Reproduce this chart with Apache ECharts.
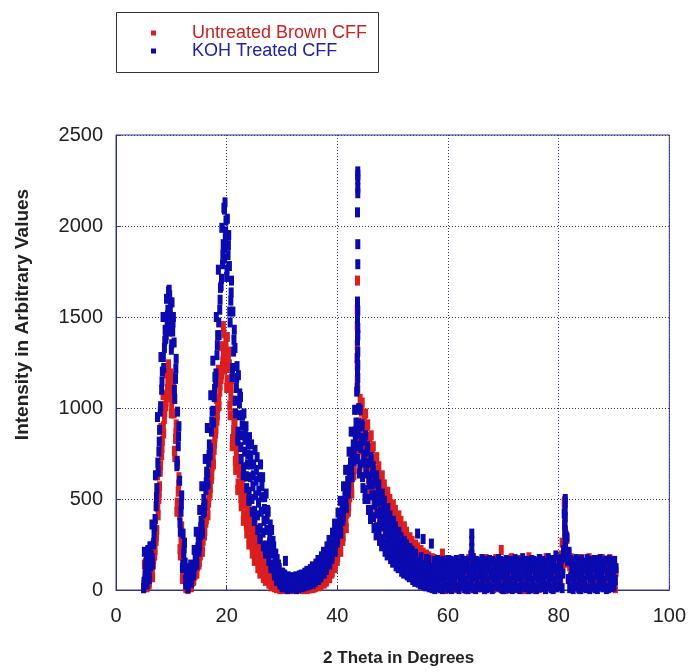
<!DOCTYPE html>
<html>
<head>
<meta charset="utf-8">
<script src="https://cdn.jsdelivr.net/npm/echarts@6/dist/echarts.min.js"></script>
<style>
  html, body { margin: 0; padding: 0; background: #fff; }
  #chart { width: 689px; height: 672px; }
</style>
</head>
<body>
<div id="chart"></div>
<script>
// 2 theta grid: each scan starts at 5 deg with 0.5 deg steps; scans are shifted a little
const xStart = 5;
const xStep = 0.5;

const seriesNames = ["Untreated Brown CFF", "KOH Treated CFF"];
const xTicks = [0, 20, 40, 60, 80, 100];
const yTicks = [0, 500, 1000, 1500, 2000, 2500];

// Untreated Brown CFF (10 values per row = 5 deg)
const untreatedA = [
  10, 150, 30, 240, 190, 630, 650, 1070, 1010, 1240,
  970, 970, 430, 410, 60, 85, 5, 85, 50, 195,
  140, 360, 300, 590, 530, 890, 860, 1210, 1160, 1410,
  1110, 1240, 790, 910, 550, 700, 380, 550, 250, 430,
  160, 330, 90, 240, 50, 165, 20, 95, 10, 55,
  5, 40, 10, 40, 5, 45, 10, 45, 5, 40,
  10, 50, 15, 65, 25, 95, 45, 145, 90, 235,
  160, 360, 270, 530, 430, 750, 630, 990, 770, 1030,
  670, 910, 550, 790, 440, 680, 350, 580, 280, 500,
  220, 440, 180, 380, 140, 320, 110, 270, 80, 235,
  60, 205, 40, 185, 25, 170, 15, 160, 200, 165,
  30, 160, 55, 110, 15, 125, 70, 40, 145, 10,
  95, 155, 45, 130, 20, 165, 80, 35, 120, 60,
  150, 5, 100, 175, 55, 135, 20, 85, 140, 70,
  25, 155, 95, 10, 130, 60, 165, 45, 110, 75,
  140, 190, 480, 280, 130, 20, 160, 85, 35, 150,
  100, 175, 55, 140, 20, 115, 165, 70, 135, 40,
  150
];
const untreatedB = [
  140, 15, 170, 70, 390, 410, 890, 860, 1190, 1060,
  1170, 730, 690, 190, 190, 10, 55, 15, 135, 90,
  275, 210, 470, 410, 730, 690, 1050, 1010, 1340, 1210,
  1390, 960, 1040, 660, 790, 460, 620, 310, 490, 200,
  380, 120, 280, 65, 200, 35, 125, 15, 70, 5,
  45, 5, 45, 5, 45, 10, 40, 5, 45, 10,
  45, 10, 55, 20, 80, 35, 115, 65, 185, 120,
  295, 210, 440, 340, 640, 530, 870, 730, 1050, 730,
  970, 610, 850, 490, 730, 390, 630, 310, 540, 250,
  470, 200, 410, 160, 350, 125, 290, 95, 250, 70,
  220, 50, 195, 30, 175, 20, 165, 10, 150, 5,
  120, 40, 130, 20, 85, 60, 150, 100, 25, 175,
  35, 70, 120, 5, 95, 50, 140, 170, 15, 220,
  85, 125, 45, 30, 155, 90, 165, 5, 60, 180,
  110, 50, 135, 170, 40, 150, 20, 125, 160, 30,
  95, 260, 350, 150, 70, 155, 50, 140, 170, 65,
  25, 80, 165, 10, 130, 60, 35, 140, 90, 160,
  55
];
const untreatedC = [
  60, 70, 90, 140, 270, 500, 740, 940, 1080, 1130,
  1050, 830, 540, 280, 110, 40, 25, 45, 80, 130,
  190, 270, 370, 480, 610, 770, 930, 1090, 1230, 1290,
  1220, 1070, 880, 760, 640, 550, 470, 400, 340, 290,
  240, 200, 160, 130, 100, 80, 60, 45, 30, 25,
  20, 25, 20, 30, 25, 20, 25, 30, 20, 25,
  25, 25, 30, 40, 45, 60, 70, 95, 125, 165,
  210, 270, 340, 420, 510, 620, 720, 840, 880, 860,
  790, 730, 670, 610, 550, 500, 460, 420, 380, 350,
  320, 290, 270, 250, 220, 200, 180, 160, 150, 130,
  120, 110, 100, 90, 80, 75, 70, 60, 55, 65,
  75, 95, 10, 165, 140, 30, 5, 170, 80, 60,
  130, 15, 90, 160, 55, 115, 10, 100, 65, 135,
  25, 160, 140, 75, 10, 40, 115, 150, 30, 95,
  160, 5, 65, 120, 85, 175, 100, 70, 15, 145,
  180, 120, 220, 60, 175, 90, 125, 5, 110, 15,
  145, 45, 120, 90, 165, 150, 95, 20, 170, 105,
  10
];
const untreatedD = [
  100, 110, 130, 190, 330, 570, 820, 1010, 1140, 1190,
  1110, 910, 620, 350, 150, 65, 40, 65, 110, 165,
  235, 320, 430, 545, 680, 840, 1000, 1160, 1290, 1360,
  1310, 1160, 970, 840, 720, 630, 550, 480, 420, 370,
  320, 270, 230, 190, 155, 125, 95, 70, 50, 40,
  35, 15, 35, 15, 35, 30, 35, 15, 35, 30,
  35, 40, 45, 55, 65, 80, 95, 120, 160, 205,
  255, 320, 400, 480, 580, 690, 800, 920, 980, 960,
  900, 840, 780, 720, 660, 610, 560, 510, 470, 440,
  410, 380, 350, 320, 300, 270, 250, 230, 210, 190,
  175, 165, 150, 145, 135, 130, 125, 120, 110, 115,
  150, 10, 100, 60, 170, 90, 120, 20, 160, 110,
  60, 125, 20, 170, 100, 30, 150, 60, 115, 5,
  120, 55, 170, 110, 25, 165, 70, 125, 5, 150,
  65, 130, 15, 150, 100, 25, 140, 165, 60, 115,
  40, 150, 300, 200, 15, 125, 100, 170, 65, 130,
  160, 15, 140, 60, 95, 170, 20, 120, 40, 65,
  100
];
// extra scans over the peaks only (5 to 57.5 deg)
const untreatedE = [
  30, 35, 45, 105, 220, 455, 685, 900, 1035, 1095,
  1010, 765, 480, 225, 85, 20, 10, 30, 55, 110,
  155, 240, 325, 445, 560, 730, 885, 1050, 1185, 1250,
  1155, 1015, 830, 710, 585, 505, 415, 355, 285, 245,
  195, 160, 115, 100, 70, 55, 35, 30, 15, 10,
  10, 15, 5, 10, 15, 5, 10, 15, 10, 5,
  10, 15, 20, 25, 35, 45, 55, 80, 100, 135,
  180, 240, 295, 375, 460, 575, 665, 780, 815, 790,
  720, 670, 600, 550, 485, 445, 395, 365, 320, 300,
  260, 245, 215, 205, 170, 165, 135, 130, 105, 100,
  80, 80, 60, 65, 45, 50
];
const untreatedF = [
  80, 95, 105, 170, 295, 535, 780, 980, 1105, 1165,
  1085, 860, 580, 305, 140, 50, 35, 55, 90, 150,
  210, 300, 390, 515, 635, 805, 960, 1125, 1255, 1325,
  1260, 1110, 935, 795, 690, 590, 520, 440, 390, 325,
  285, 230, 200, 155, 140, 100, 85, 55, 45, 30,
  25, 20, 30, 20, 25, 30, 20, 25, 30, 20,
  25, 30, 40, 45, 55, 70, 85, 110, 140, 180,
  225, 300, 360, 450, 540, 655, 760, 880, 920, 900,
  830, 780, 710, 660, 595, 555, 500, 465, 420, 395,
  355, 340, 305, 285, 250, 240, 205, 195, 170, 165,
  140, 140, 120, 120, 105, 110
];
// narrow reflections [2theta, intensity]
const untreatedSharp = [
  [19.4, 1450], [43.65, 1700], [43.6, 1540], [43.65, 1500], [43.6, 1450],
  [43.65, 1400], [43.6, 1345], [43.65, 1300], [43.6, 1275], [43.6, 1235],
  [43.65, 1200], [43.6, 1150], [43.7, 1100], [81.1, 490], [81.15, 440],
  [81.1, 380], [81.15, 330], [81.1, 280]
];

// KOH Treated CFF
const kohA = [
  10, 170, 60, 360, 350, 950, 980, 1500, 1380, 1640,
  1320, 1360, 680, 600, 120, 150, 10, 140, 80, 320,
  210, 570, 430, 890, 740, 1260, 1140, 1760, 1670, 2100,
  1720, 1780, 1170, 1330, 820, 1060, 630, 900, 490, 800,
  380, 730, 280, 620, 200, 430, 120, 240, 50, 120,
  15, 85, 5, 70, 15, 75, 10, 85, 20, 105,
  30, 130, 45, 165, 70, 210, 110, 275, 170, 365,
  260, 490, 380, 660, 530, 870, 710, 1090, 640, 910,
  500, 790, 390, 680, 300, 580, 240, 490, 190, 410,
  150, 350, 120, 290, 90, 250, 70, 215, 45, 310,
  30, 280, 20, 165, 255, 160, 15, 155, 5, 150,
  10, 160, 20, 165, 5, 170, 10, 155, 20, 175,
  5, 150, 15, 160, 10, 165, 5, 150, 20, 160,
  5, 165, 10, 155, 20, 160, 5, 175, 15, 155,
  10, 160, 5, 170, 15, 150, 20, 160, 5, 190,
  20, 170, 420, 290, 10, 155, 20, 160, 5, 150,
  10, 160, 20, 165, 5, 170, 15, 160, 10, 155,
  20
];
const kohB = [
  210, 30, 240, 140, 630, 650, 1280, 1220, 1600, 1420,
  1580, 1050, 980, 320, 310, 30, 100, 40, 220, 140,
  440, 310, 720, 580, 1070, 920, 1500, 1400, 1990, 1820,
  2040, 1470, 1530, 970, 1180, 720, 970, 560, 840, 430,
  770, 330, 690, 240, 530, 160, 330, 80, 170, 30,
  95, 160, 75, 10, 70, 5, 80, 15, 95, 25,
  115, 35, 145, 55, 185, 90, 240, 140, 315, 210,
  425, 310, 570, 450, 760, 620, 990, 720, 990, 560,
  850, 440, 730, 340, 630, 270, 530, 210, 450, 170,
  380, 130, 320, 100, 270, 80, 230, 55, 200, 40,
  180, 25, 170, 15, 10, 5, 165, 10, 160, 20,
  165, 5, 155, 15, 150, 25, 160, 5, 190, 10,
  160, 20, 170, 5, 155, 15, 160, 25, 170, 10,
  155, 15, 160, 5, 170, 10, 150, 20, 160, 5,
  165, 15, 155, 20, 160, 5, 175, 10, 165, 15,
  165, 10, 330, 160, 165, 5, 170, 10, 165, 15,
  170, 5, 155, 10, 160, 20, 150, 5, 165, 15,
  160
];
const kohC = [
  80, 220, 130, 250, 460, 760, 1100, 1330, 1470, 1510,
  1420, 1160, 790, 430, 200, 80, 45, 80, 130, 210,
  300, 420, 550, 700, 870, 1060, 1290, 1540, 1790, 1930,
  1840, 1590, 1310, 1110, 960, 850, 760, 690, 620, 570,
  520, 480, 430, 380, 330, 260, 200, 150, 100, 65,
  45, 35, 30, 40, 35, 45, 40, 50, 50, 60,
  65, 75, 85, 100, 115, 140, 160, 190, 225, 270,
  320, 380, 450, 530, 620, 720, 820, 860, 780, 700,
  640, 580, 520, 470, 420, 380, 350, 310, 280, 250,
  230, 210, 190, 170, 150, 140, 120, 110, 100, 90,
  80, 75, 70, 60, 55, 65, 60, 70, 50, 80,
  60, 75, 55, 85, 60, 70, 50, 80, 65, 75,
  55, 85, 60, 70, 50, 80, 65, 75, 55, 85,
  60, 70, 50, 80, 65, 75, 55, 85, 60, 70,
  50, 80, 65, 75, 55, 85, 60, 70, 50, 80,
  65, 90, 250, 60, 75, 55, 80, 60, 70, 50,
  80, 65, 55, 85, 60, 70, 50, 80, 65, 75,
  55
];
const kohD = [
  150, 110, 190, 310, 560, 880, 1200, 1430, 1540, 1580,
  1500, 1270, 900, 520, 260, 120, 75, 115, 180, 270,
  380, 500, 650, 800, 980, 1170, 1400, 1660, 1900, 2030,
  1950, 1700, 1430, 1230, 1080, 960, 870, 800, 740, 690,
  660, 620, 570, 510, 440, 360, 270, 200, 140, 95,
  70, 60, 55, 25, 50, 30, 60, 35, 75, 85,
  90, 105, 120, 135, 155, 175, 205, 235, 275, 320,
  380, 440, 520, 600, 700, 800, 920, 1000, 900, 820,
  760, 700, 640, 590, 540, 490, 450, 410, 380, 340,
  310, 290, 260, 240, 220, 200, 185, 170, 150, 150,
  135, 130, 125, 115, 120, 110, 115, 105, 125, 110,
  120, 110, 130, 105, 120, 115, 125, 100, 130, 120,
  115, 105, 125, 110, 120, 100, 130, 110, 120, 105,
  125, 115, 120, 100, 130, 110, 125, 105, 120, 115,
  125, 105, 130, 110, 120, 100, 125, 115, 120, 110,
  130, 220, 180, 210, 120, 110, 125, 105, 120, 115,
  125, 110, 130, 105, 120, 115, 125, 100, 130, 110,
  120
];
const kohE = [
  45, 60, 70, 175, 390, 700, 1010, 1280, 1400, 1460,
  1350, 1100, 710, 370, 140, 55, 20, 60, 95, 175,
  245, 360, 470, 640, 780, 985, 1190, 1470, 1710, 1880,
  1760, 1530, 1220, 1040, 870, 785, 675, 625, 540, 500,
  435, 410, 340, 315, 245, 210, 140, 110, 65, 45,
  25, 15, 20, 10, 20, 10, 20, 25, 25, 40,
  35, 50, 55, 75, 80, 110, 125, 165, 185, 240,
  280, 345, 405, 490, 565, 670, 750, 790, 690, 620,
  550, 500, 440, 400, 345, 325, 280, 255, 225, 210,
  175, 170, 140, 135, 105, 105, 85, 80, 60, 65,
  50, 55, 40, 45, 30, 40
];
const kohF = [
  125, 125, 155, 260, 510, 815, 1145, 1370, 1510, 1540,
  1470, 1215, 845, 470, 230, 90, 70, 90, 165, 235,
  345, 450, 595, 745, 925, 1105, 1345, 1595, 1845, 1970,
  1895, 1635, 1375, 1165, 1025, 905, 825, 745, 690, 630,
  600, 545, 510, 445, 390, 305, 235, 165, 120, 75,
  55, 55, 40, 45, 35, 50, 40, 55, 55, 65,
  80, 80, 105, 110, 135, 150, 185, 205, 255, 290,
  355, 405, 490, 560, 665, 755, 870, 915, 835, 745,
  695, 625, 580, 520, 485, 430, 400, 355, 335, 295,
  280, 245, 230, 200, 190, 165, 160, 135, 130, 115,
  115, 100, 105, 90, 100, 85
];
const kohSharp = [
  [9.6, 1650], [9.7, 1620], [19.7, 2130], [19.6, 2090],
  [43.7, 2300], [43.7, 2280], [43.7, 2255], [43.7, 2210], [43.7, 2180],
  [43.65, 2075], [43.7, 1900], [43.7, 1790], [43.65, 1585], [43.7, 1535],
  [43.65, 1490], [43.7, 1440], [43.7, 1400], [43.65, 1370], [43.7, 1310],
  [43.6, 1275], [43.7, 1235], [43.65, 1200], [43.7, 1165], [43.6, 1110],
  [64.3, 310], [64.3, 270], [64.3, 230], [64.3, 195],
  [81.2, 500], [81.2, 480], [81.15, 440], [81.2, 400], [81.1, 360],
  [81.2, 320], [81.15, 280], [81.2, 240]
];

// each scan with its small 2theta shift
function buildPoints(scans, sharp) {
  let pts = [];
  scans.forEach(([scan, shift]) => {
    scan.forEach((v, i) => {
      pts.push([+(xStart + i * xStep + shift).toFixed(4), v]);
    });
  });
  return pts.concat(sharp);
}

const untreatedPoints = buildPoints(
  [[untreatedA, 0], [untreatedE, 0.0625], [untreatedB, 0.125], [untreatedC, 0.25], [untreatedF, 0.3125], [untreatedD, 0.375]],
  untreatedSharp
);
const kohPoints = buildPoints(
  [[kohA, 0], [kohE, 0.0625], [kohB, 0.125], [kohC, 0.25], [kohF, 0.3125], [kohD, 0.375]],
  kohSharp
);

const font = 'Arial, "Liberation Sans", sans-serif';
const axisColor = "#34348c";

let myChart = echarts.init(document.getElementById("chart"));
myChart.setOption({
  animation: false,
  color: ["#dc1e1e", "#0a0ab0"],
  grid: {
    left: 116,
    right: 19,
    top: 135,
    bottom: 78,
    show: true,
    borderColor: axisColor,
    borderWidth: 1,
  },
  legend: {
    orient: "vertical",
    left: 146,
    top: 19,
    itemWidth: 5,
    itemHeight: 5,
    itemGap: 0,
    icon: "rect",
    textStyle: {
      fontFamily: font,
      fontSize: 18,
      lineHeight: 18,
      padding: [0, 0, 0, 31],
    },
    data: [
      { name: seriesNames[0], textStyle: { color: "#cc2222" } },
      { name: seriesNames[1], textStyle: { color: "#2020a8" } },
    ],
  },
  graphic: [
    {
      type: "rect",
      shape: { x: 116.5, y: 12.5, width: 262, height: 60 },
      style: { fill: "none", stroke: "#333", lineWidth: 1 },
      silent: true,
    },
  ],
  xAxis: {
    type: "value",
    min: xTicks[0],
    max: xTicks[xTicks.length - 1],
    interval: 20,
    name: "2 Theta in Degrees",
    nameLocation: "middle",
    nameGap: 60,
    nameTextStyle: { fontFamily: font, fontSize: 17, fontWeight: "bold", color: "#222", padding: [0, 0, 0, 12] },
    axisLine: { onZero: false, lineStyle: { color: axisColor, width: 1 } },
    axisTick: { inside: true, length: 5, lineStyle: { color: axisColor } },
    axisLabel: { fontFamily: font, fontSize: 20, color: "#222", margin: 16, formatter: (v) => String(v) },
    splitLine: { show: true, lineStyle: { color: axisColor, type: [1, 2], width: 1 } },
  },
  yAxis: {
    type: "value",
    min: yTicks[0],
    max: yTicks[yTicks.length - 1],
    interval: 500,
    name: "Intensity in Arbitrary Values",
    nameLocation: "middle",
    nameGap: 84,
    nameTextStyle: { fontFamily: font, fontSize: 19, fontWeight: "bold", color: "#222", padding: [0, 0, 0, 96] },
    axisLine: { show: true, onZero: false, lineStyle: { color: axisColor, width: 1 } },
    axisTick: { show: true, inside: true, length: 5, lineStyle: { color: axisColor } },
    axisLabel: { fontFamily: font, fontSize: 20, color: "#222", margin: 13, formatter: (v) => String(v) },
    splitLine: { show: true, lineStyle: { color: axisColor, type: [1, 2], width: 1 } },
  },
  series: [
    {
      name: seriesNames[0],
      type: "scatter",
      symbol: "rect",
      symbolSize: [5, 10],
      itemStyle: { opacity: 1 },
      data: untreatedPoints,
    },
    {
      name: seriesNames[1],
      type: "scatter",
      symbol: "rect",
      symbolSize: [5, 10],
      itemStyle: { opacity: 1 },
      data: kohPoints,
    },
  ],
});

window.addEventListener("resize", () => {
  myChart.resize();
});
</script>
</body>
</html>
